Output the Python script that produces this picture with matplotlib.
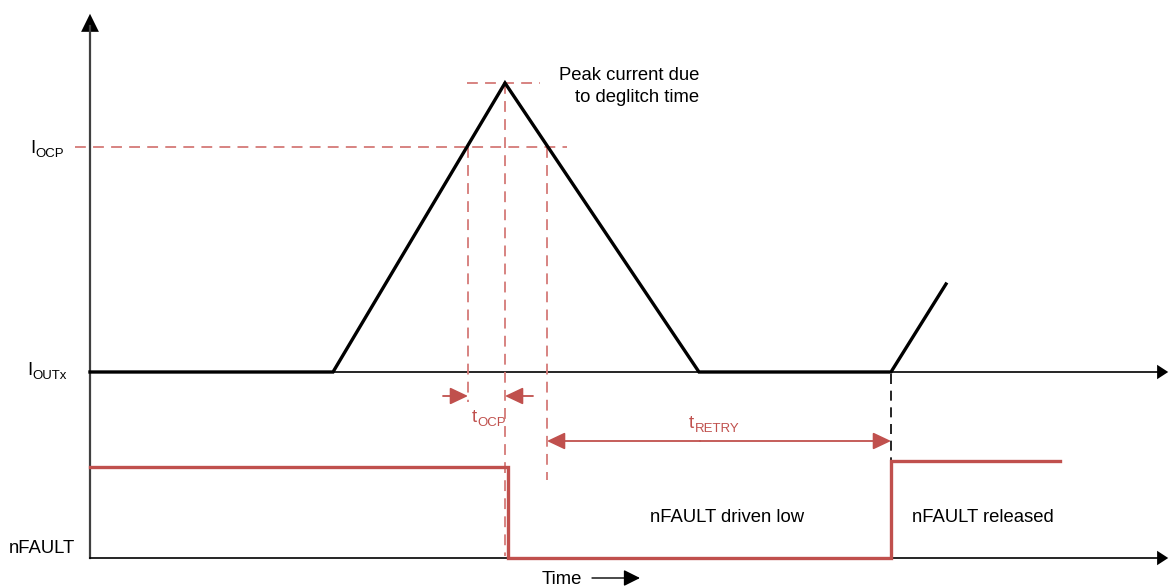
import matplotlib
matplotlib.use("Agg")
import matplotlib.pyplot as plt
from matplotlib.patches import FancyArrowPatch

plt.rcParams['font.family'] = ['Liberation Sans', 'DejaVu Sans']

# ---- data (diagram coordinates: time along x, level along y, y grows downward) ----
current_t = [90, 333, 505, 699, 891, 946]
current_y = [372, 372, 83, 372, 372, 284]
nfault_t = [90, 508, 508, 891, 891, 1060]
nfault_y = [467, 467, 558, 558, 461, 461]
iocp_level = 147
peak_level = 83
iocp_cross_t = [468, 547]
peak_t = 505
retry_end_t = 891
labels_y = {"IOCP": 147, "IOUTx": 372, "nFAULT": 547}

RED = '#C0504D'
RED_L = '#D47A77'

fig = plt.figure(figsize=(11.71, 5.87), dpi=100)
ax = fig.add_axes([0, 0, 1, 1])
ax.set_xlim(0, 1171)
ax.set_ylim(587, 0)
ax.axis('off')

# axes
ax.plot([90, 90], [558, 26], color='#404040', lw=1.6, zorder=2)
ax.add_patch(FancyArrowPatch((90, 30), (90, 11), arrowstyle='-|>,head_length=6.5,head_width=3.2',
                             color='black', lw=0, mutation_scale=2))
for yy in (372, 558):
    ax.plot([90, 1164], [yy, yy], color='black', lw=1.2, zorder=2)
    ax.add_patch(FancyArrowPatch((1160, yy), (1171, yy), arrowstyle='-|>,head_length=4,head_width=2.6',
                                 color='black', lw=0, mutation_scale=2))

# current waveform
ax.plot(current_t, current_y, color='black', lw=2.4, solid_joinstyle='miter', zorder=4)

# dashed guides
dash = dict(color=RED_L, lw=1.3, dashes=(6, 4), zorder=3)
ax.plot([75, 567], [iocp_level, iocp_level], **dash)
ax.plot([467, 540], [peak_level, peak_level], **dash)
ax.plot([iocp_cross_t[0]] * 2, [iocp_level, 402], **dash)
ax.plot([peak_t] * 2, [peak_level, 556], **dash)
ax.plot([iocp_cross_t[1]] * 2, [iocp_level, 480], **dash)
ax.plot([retry_end_t] * 2, [374, 470], color='black', lw=1.2, dashes=(6, 4), zorder=3)

# nFAULT waveform
ax.plot(nfault_t, nfault_y, color=RED, lw=2.4, solid_joinstyle='miter', zorder=5)


def arr(p0, p1, col, hl=5.5, hw=2.6, lw=1.3):
    ax.add_patch(FancyArrowPatch(p0, p1, arrowstyle=f'-|>,head_length={hl},head_width={hw}',
                                 color=col, lw=lw, mutation_scale=2, shrinkA=0, shrinkB=0, zorder=6))


arr((443, 396), (iocp_cross_t[0], 396), RED)
arr((533, 396), (peak_t, 396), RED)
arr((700, 441), (iocp_cross_t[1], 441), RED)
arr((700, 441), (retry_end_t, 441), RED)

# texts
fs = 13.3
fss = 9.5


def sublabel(x, y, main, sub, color='black'):
    t = ax.text(x, y, main, fontsize=fs, color=color, ha='left', va='baseline')
    fig.canvas.draw()
    bb = t.get_window_extent()
    inv = ax.transData.inverted()
    x1 = inv.transform((bb.x1, bb.y0))[0]
    ax.text(x1 + 0.5, y + 4, sub, fontsize=fss, color=color, ha='left', va='baseline')


sublabel(30, labels_y["IOCP"] + 6, 'I', 'OCP')
sublabel(27, labels_y["IOUTx"] + 3, 'I', 'OUTx')
ax.text(9, labels_y["nFAULT"] + 6, 'nFAULT', fontsize=fs, ha='left', va='baseline')
sublabel(472, 422, 't', 'OCP', color=RED)
sublabel(689, 428, 't', 'RETRY', color=RED)

ax.text(699, 80, 'Peak current due', fontsize=fs, ha='right', va='baseline')
ax.text(699, 102, 'to deglitch time', fontsize=fs, ha='right', va='baseline')
ax.text(727, 522, 'nFAULT driven low', fontsize=fs, ha='center', va='baseline')
ax.text(983, 522, 'nFAULT released', fontsize=fs, ha='center', va='baseline')
ax.text(562, 584, 'Time', fontsize=fs, ha='center', va='baseline')
arr((592, 578), (640, 578), 'black', hl=5, hw=2.5, lw=1.0)

fig.savefig('out.png', dpi=100, facecolor='white')
